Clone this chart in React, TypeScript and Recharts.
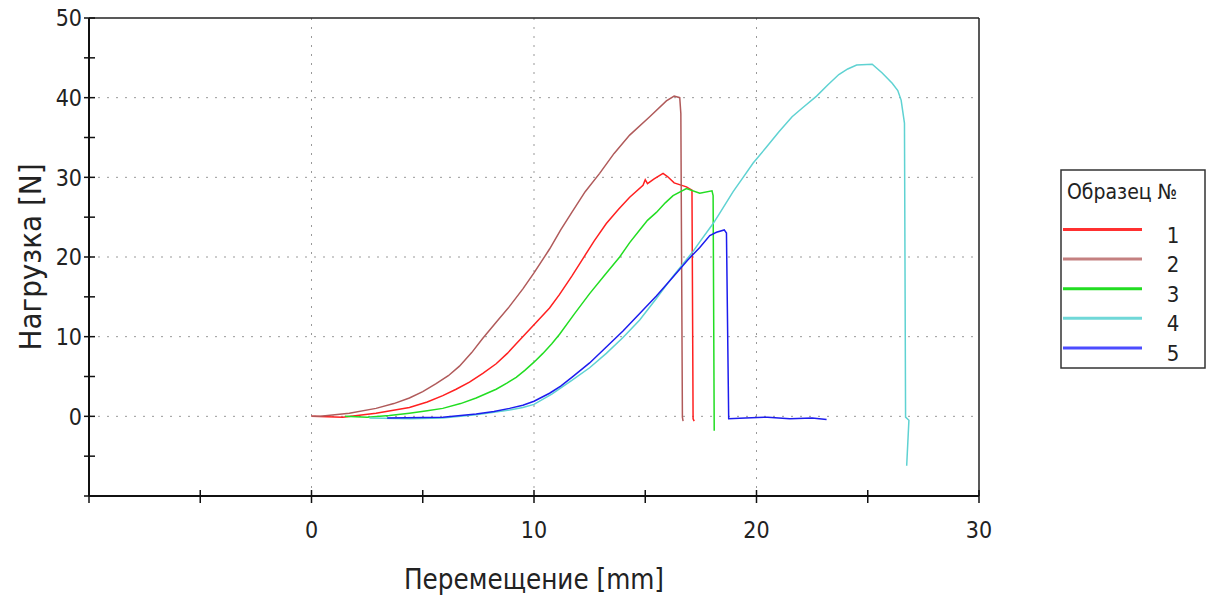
import React from 'react';
import { LineChart, Line, XAxis, YAxis, CartesianGrid, ReferenceLine } from 'recharts';

const FONT = "'DejaVu Sans Condensed', 'DejaVu Sans', sans-serif";

const xTicks = [-10, -5, 0, 5, 10, 15, 20, 25, 30];
const xLabels = [0, 10, 20, 30];
const yTicks = [-10, -5, 0, 5, 10, 15, 20, 25, 30, 35, 40, 45, 50];
const yLabels = [0, 10, 20, 30, 40, 50];
const gridX = [0, 10, 20];
const gridY = [0, 10, 20, 30, 40];

const sampleNames = ['1', '2', '3', '4', '5'];
const lineColors = ['#ff2020', '#b05a5a', '#22dd22', '#5fd2d2', '#1c1cee'];
const legendColors = ['#ff3030', '#c48080', '#22dd22', '#70d8d8', '#4c4cff'];

// [перемещение mm, нагрузка N]
const sample1: [number, number][] = [
  [0, 0], [1.4, -0.1], [2.9, 0.4], [4.4, 1.1], [5.2, 1.8], [5.9, 2.6], [6.5, 3.4],
  [7.1, 4.3], [7.7, 5.4], [8.3, 6.6], [8.8, 7.9], [9.2, 9.1], [9.6, 10.3], [10, 11.5],
  [10.7, 13.6], [11.15, 15.3], [11.7, 17.6], [12.2, 19.8], [12.7, 22.0], [13.25, 24.2],
  [13.8, 26.0], [14.3, 27.5], [14.9, 29.0], [15.0, 29.7], [15.1, 29.2], [15.4, 29.8],
  [15.8, 30.5], [16.0, 30.1], [16.3, 29.3], [16.85, 28.8], [17.1, 28.4], [17.15, -0.3],
  [17.2, -0.6],
];
const sample2: [number, number][] = [
  [0, 0], [0.4, 0], [1.7, 0.4], [2.9, 1.0], [3.7, 1.6], [4.4, 2.3], [5.0, 3.1],
  [5.6, 4.1], [6.15, 5.1], [6.65, 6.3], [7.2, 8.0], [7.7, 9.8], [8.3, 11.8], [8.9, 13.8],
  [9.5, 16.0], [10, 18.0], [10.7, 21.0], [11.2, 23.4], [11.7, 25.6], [12.3, 28.2],
  [12.95, 30.5], [13.6, 33.0], [14.3, 35.3], [15.2, 37.6], [15.95, 39.6], [16.3, 40.2],
  [16.55, 40], [16.6, 38], [16.67, -0.1], [16.7, -0.6],
];
const sample3: [number, number][] = [
  [1.5, 0], [2.5, -0.1], [3.5, 0.1], [4.4, 0.4], [5.2, 0.7], [5.9, 1.0], [6.7, 1.6],
  [7.4, 2.3], [8.3, 3.4], [8.8, 4.2], [9.2, 4.9], [9.6, 5.8], [10, 6.8], [10.4, 7.9],
  [10.8, 9.1], [11.15, 10.3], [11.8, 12.8], [12.5, 15.4], [13.2, 17.8], [13.85, 20],
  [14.3, 21.8], [14.75, 23.4], [15.1, 24.6], [15.5, 25.6], [15.9, 26.8], [16.25, 27.7],
  [16.85, 28.6], [17.45, 28.0], [18.0, 28.3], [18.05, 27.7], [18.1, -1.8],
];
const sample4: [number, number][] = [
  [2.6, -0.2], [4.4, -0.3], [5.9, -0.2], [7.4, 0.2], [8.2, 0.5], [8.9, 0.8], [9.5, 1.1],
  [10, 1.5], [10.8, 2.8], [11.7, 4.5], [12.5, 6.1], [13.25, 7.9], [14.0, 9.9],
  [14.75, 12.1], [15.5, 14.8], [16.25, 17.6], [17.15, 20.7], [17.45, 21.9], [18.05, 24.2],
  [18.3, 25.3], [18.95, 28.2], [19.4, 30], [19.85, 31.8], [20.45, 33.8], [21.0, 35.7],
  [21.6, 37.6], [22.1, 38.8], [22.7, 40.2], [23.2, 41.6], [23.7, 42.9], [24.1, 43.6],
  [24.5, 44.1], [25.2, 44.2], [25.65, 43.1], [26.1, 41.8], [26.35, 40.9], [26.5, 39.7],
  [26.65, 36.8], [26.7, -0.1], [26.85, -0.5], [26.75, -6.2],
];
const sample5: [number, number][] = [
  [3.4, -0.2], [5.9, -0.1], [7.4, 0.3], [8.2, 0.6], [8.9, 1.0], [9.5, 1.4], [10, 1.9],
  [10.7, 2.9], [11.2, 3.8], [11.7, 4.9], [12.5, 6.7], [13.25, 8.7], [14.0, 10.7],
  [14.75, 12.9], [15.5, 15.1], [16.25, 17.5], [16.9, 19.6], [17.45, 21.2], [17.9, 22.7],
  [18.2, 23.1], [18.55, 23.4], [18.65, 23], [18.75, -0.3], [19.5, -0.2], [20.5, -0.1],
  [21.5, -0.3], [22.5, -0.2], [23.15, -0.4],
];

const samples = [sample1, sample2, sample3, sample4, sample5].map((s) =>
  s.map(([x, y]) => ({ x, y }))
);

function XTick(props: any) {
  const { x, y, payload } = props;
  const v = payload.value;
  return (
    <g>
      <line x1={x} x2={x} y1={y - 6} y2={y + 7} stroke="#111" strokeWidth={1.5} />
      {xLabels.includes(v) && (
        <text x={x} y={y + 42} textAnchor="middle" fontFamily={FONT} fontSize={23} fill="#222">
          {v}
        </text>
      )}
    </g>
  );
}

function YTick(props: any) {
  const { x, y, payload } = props;
  const v = payload.value;
  return (
    <g>
      <line x1={x - 5} x2={x + 6} y1={y} y2={y} stroke="#111" strokeWidth={1.5} />
      {yLabels.includes(v) && (
        <text x={x - 7} y={y} dy="0.36em" textAnchor="end" fontFamily={FONT} fontSize={23} fill="#222">
          {v}
        </text>
      )}
    </g>
  );
}

function LegendBox() {
  return (
    <svg width={148} height={202} style={{ position: 'absolute', left: 1060, top: 169 }}>
      <rect x={1} y={1} width={144} height={198} fill="#fff" stroke="#333" strokeWidth={1.5} />
      <text x={7} y={23} dominantBaseline="central" fontFamily={FONT} fontSize={21} fill="#222">
        Образец №
      </text>
      {sampleNames.map((n, i) => (
        <g key={n}>
          <line x1={3} x2={82} y1={60.5 + 29.6 * i} y2={60.5 + 29.6 * i} stroke={legendColors[i]} strokeWidth={3} />
          <text x={113} y={66 + 29.5 * i} dominantBaseline="central" textAnchor="middle" fontFamily={FONT} fontSize={22} fill="#222">
            {n}
          </text>
        </g>
      ))}
    </svg>
  );
}

export default function App() {
  return (
    <div style={{ position: 'relative', width: 1206, height: 597, marginTop: -8, marginLeft: -8 }}>
      <LineChart width={1206} height={597} margin={{ top: 18, right: 227, bottom: 0, left: 8 }}>
        <CartesianGrid horizontalValues={gridY} verticalValues={gridX} stroke="#999" strokeDasharray="2 7" />
        <XAxis
          dataKey="x"
          type="number"
          domain={[-10, 30]}
          ticks={xTicks}
          interval={0}
          height={101}
          tickSize={0}
          tickMargin={0}
          tickLine={false}
          axisLine={{ stroke: '#111', strokeWidth: 2 }}
          tick={<XTick />}
          label={{
            value: 'Перемещение [mm]',
            position: 'insideBottom',
            offset: 8,
            style: { fontFamily: FONT, fontSize: 27.5, fill: '#222' },
          }}
        />
        <YAxis
          type="number"
          domain={[-10, 50]}
          ticks={yTicks}
          interval={0}
          width={81}
          tickSize={0}
          tickMargin={0}
          tickLine={false}
          axisLine={{ stroke: '#111', strokeWidth: 2 }}
          tick={<YTick />}
          label={{
            value: 'Нагрузка [N]',
            angle: -90,
            position: 'insideLeft',
            offset: 22,
            style: { fontFamily: FONT, fontSize: 31, fill: '#222', textAnchor: 'middle' },
          }}
        />
        <ReferenceLine y={50} stroke="#222" strokeWidth={1.5} />
        <ReferenceLine x={30} stroke="#222" strokeWidth={1.5} />
        {samples.map((d, i) => (
          <Line
            key={sampleNames[i]}
            data={d}
            dataKey="y"
            name={sampleNames[i]}
            type="linear"
            stroke={lineColors[i]}
            strokeWidth={1.5}
            dot={false}
            isAnimationActive={false}
          />
        ))}
      </LineChart>
      <LegendBox />
    </div>
  );
}
